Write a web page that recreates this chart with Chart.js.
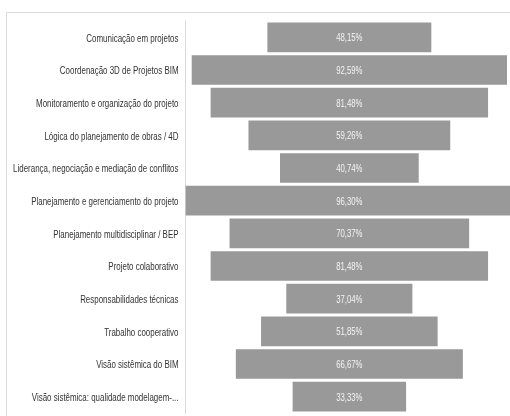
<!DOCTYPE html>
<html>
<head>
<meta charset="utf-8">
<script src="https://cdn.jsdelivr.net/npm/chart.js@4.4.1/dist/chart.umd.min.js"></script>
<style>
  html, body { margin: 0; padding: 0; background: #fff; overflow: hidden; }
  #wrap { position: relative; width: 510px; height: 416px; }
</style>
</head>
<body>
<div id="wrap"><canvas id="funnel" width="510" height="416"></canvas></div>
<script>
const categories = [
  "Comunicação em projetos",
  "Coordenação 3D de Projetos BIM",
  "Monitoramento e organização do projeto",
  "Lógica do planejamento de obras / 4D",
  "Liderança, negociação e mediação de conflitos",
  "Planejamento e gerenciamento do projeto",
  "Planejamento multidisciplinar / BEP",
  "Projeto colaborativo",
  "Responsabilidades técnicas",
  "Trabalho cooperativo",
  "Visão sistêmica do BIM",
  "Visão sistêmica: qualidade modelagem-..."
];
const percentages = [48.15, 92.59, 81.48, 59.26, 40.74, 96.30, 70.37, 81.48, 37.04, 51.85, 66.67, 33.33];

// funnel: each bar is centred on 50
const funnelBars = percentages.map(v => [50 - v / 2, 50 + v / 2]);

const fmtPct = v => v.toFixed(2).replace('.', ',') + '%';

// the original uses a narrow font, so squeeze text horizontally
function narrowText(ctx, text, x, y, squeeze) {
  ctx.save();
  ctx.translate(x, y);
  ctx.scale(squeeze, 1);
  ctx.fillText(text, 0, 0);
  ctx.restore();
}

// light frame of the chart area (top and left edges visible)
const framePlugin = {
  id: 'frame',
  beforeDraw(chart) {
    const ctx = chart.ctx;
    ctx.save();
    ctx.strokeStyle = '#d9d9d9';
    ctx.lineWidth = 1;
    ctx.beginPath();
    ctx.moveTo(6.5, 420);
    ctx.lineTo(6.5, 12.5);
    ctx.lineTo(520, 12.5);
    ctx.stroke();
    ctx.restore();
  }
};

// category names, right aligned next to the axis line
const categoryLabels = {
  id: 'categoryLabels',
  afterDraw(chart) {
    const ctx = chart.ctx;
    const y = chart.scales.y;
    ctx.save();
    ctx.font = '11.5px "Liberation Sans", Arial, sans-serif';
    ctx.fillStyle = '#333333';
    ctx.textAlign = 'right';
    ctx.textBaseline = 'middle';
    categories.forEach((name, i) => {
      narrowText(ctx, name, y.right - 7, y.getPixelForValue(i) + 1, 0.69);
    });
    ctx.restore();
  }
};

// value labels inside the bars
const valueLabels = {
  id: 'valueLabels',
  afterDatasetsDraw(chart) {
    const ctx = chart.ctx;
    const meta = chart.getDatasetMeta(0);
    ctx.save();
    ctx.font = '10.5px "Liberation Sans", Arial, sans-serif';
    ctx.fillStyle = '#f4f4f4';
    ctx.textAlign = 'center';
    ctx.textBaseline = 'middle';
    meta.data.forEach((bar, i) => {
      const c = bar.getCenterPoint();
      narrowText(ctx, fmtPct(percentages[i]), c.x, c.y + 1, 0.74);
    });
    ctx.restore();
  }
};

new Chart(document.getElementById('funnel'), {
  type: 'bar',
  data: {
    labels: categories,
    datasets: [{
      data: funnelBars,
      backgroundColor: '#999999',
      borderWidth: 0,
      categoryPercentage: 1,
      barPercentage: 0.91
    }]
  },
  options: {
    indexAxis: 'y',
    responsive: false,
    animation: false,
    layout: { padding: { left: 0, right: 0, top: 21, bottom: 3 } },
    scales: {
      x: {
        display: false,
        min: 1.88,
        max: 97.18
      },
      y: {
        afterFit(scale) {
          scale.width = 185.5;
          scale.paddingTop = 0;
          scale.paddingBottom = 0;
        },
        grid: { display: false, drawTicks: false },
        border: { display: true, color: '#d9d9d9', width: 1 },
        ticks: { display: false }
      }
    },
    plugins: {
      legend: { display: false },
      tooltip: { enabled: false }
    }
  },
  plugins: [framePlugin, categoryLabels, valueLabels]
});
</script>
</body>
</html>
